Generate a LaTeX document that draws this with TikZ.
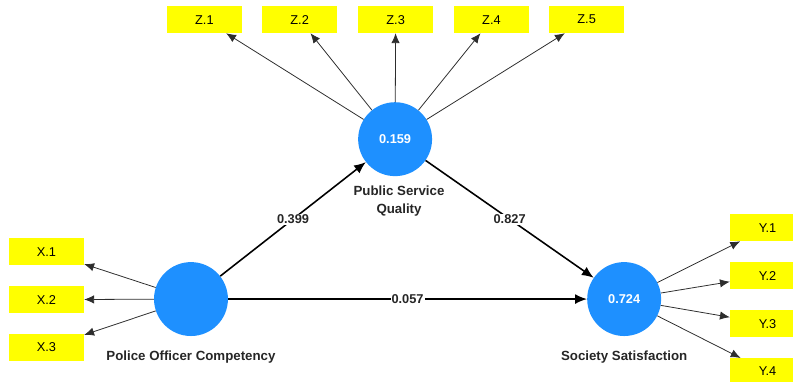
\documentclass[tikz,border=0pt]{standalone}
\usepackage{fontspec}
\setmainfont{Liberation Sans}
\usepackage{tikz}
\usetikzlibrary{arrows.meta}
\definecolor{lvblue}{RGB}{30,144,255}
\definecolor{indyellow}{RGB}{255,255,0}
\definecolor{indline}{RGB}{45,45,45}

\begin{document}
\begin{tikzpicture}[latent/.style={circle, fill=lvblue, minimum size=2.64cm, inner sep=0pt, text=white, font=\fontsize{13}{15}\selectfont\bfseries}, indicator/.style={rectangle, fill=indyellow, minimum width=2.68cm, minimum height=0.96cm, inner sep=0pt, font=\fontsize{13}{15}\selectfont}, lvname/.style={align=center, text=black!85, font=\fontsize{13.5}{18}\selectfont\bfseries}, loading/.style={draw=indline, line width=0.8pt, -{Latex[length=10pt,width=8.5pt]}}, pathline/.style={line width=1.6pt, -{Latex[length=12pt,width=10pt]}}, coef/.style={fill=white, inner sep=1pt, text=black!85, font=\fontsize{13}{15}\selectfont\bfseries}]
				\clip (0,0) rectangle (28.32,13.61);
				% Nodes

				\node [latent] (psq) at (14.11,8.64) {0.159};
				\node [latent] (poc) at (6.82,2.93) {};
				\node [latent] (ss) at (22.29,2.93) {0.724};
				\node [lvname] (l1) at (14.25,6.43) {Public Service\\Quality};
				\node [lvname] (l2) at (6.82,0.86) {Police Officer Competency};
				\node [lvname] (l3) at (22.29,0.86) {Society Satisfaction};
				\node [indicator] (z1) at (7.30,12.91) {Z.1};
				\node [indicator] (z2) at (10.70,12.91) {Z.2};
				\node [indicator] (z3) at (14.13,12.91) {Z.3};
				\node [indicator] (z4) at (17.55,12.91) {Z.4};
				\node [indicator] (z5) at (20.95,12.91) {Z.5};
				\node [indicator] (x1) at (1.66,4.62) {X.1};
				\node [indicator] (x2) at (1.66,2.91) {X.2};
				\node [indicator] (x3) at (1.66,1.20) {X.3};
				\node [indicator] (y1) at (27.41,5.48) {Y.1};
				\node [indicator] (y2) at (27.41,3.77) {Y.2};
				\node [indicator] (y3) at (27.41,2.05) {Y.3};
				\node [indicator] (y4) at (27.41,0.34) {Y.4};

				% Arrows

				\draw[loading] (psq) -- (z1);\draw[loading] (psq) -- (z2);
				\draw[loading] (psq) -- (z3);\draw[loading] (psq) -- (z4);
				\draw[loading] (psq) -- (z5);
				\draw[loading] (poc) -- (x1);\draw[loading] (poc) -- (x2);
				\draw[loading] (poc) -- (x3);
				\draw[loading] (ss) -- (y1);\draw[loading] (ss) -- (y2);
				\draw[loading] (ss) -- (y3);\draw[loading] (ss) -- (y4);
				\draw[pathline] (poc) -- node[coef] {0.399} (psq);
				\draw[pathline] (psq) -- node[coef] {0.827} (ss);
				\draw[pathline] (poc) -- node[coef] {0.057} (ss);
			\end{tikzpicture}
\end{document}
